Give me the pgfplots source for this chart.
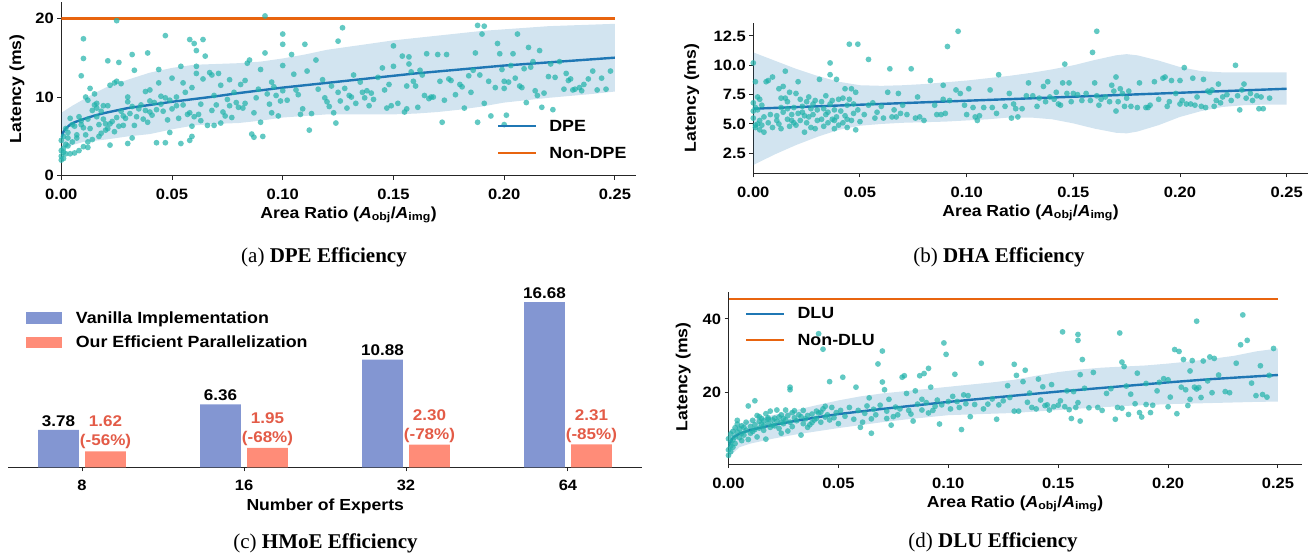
\documentclass[border=0pt]{standalone}
\usepackage{fontspec}
\setmainfont{Liberation Sans}[FakeStretch=1.1]
\newfontfamily\capfont{Liberation Serif}
\usepackage{pgfplots}
\pgfplotsset{compat=1.18}

\definecolor{tabblue}{HTML}{1F77B4}
\definecolor{nonorange}{HTML}{E8640F}
\definecolor{dots}{HTML}{20B2AA}
\definecolor{vanb}{HTML}{8396D2}
\definecolor{ourr}{HTML}{FF8C78}
\definecolor{redtxt}{HTML}{E35B47}

\newcommand{\tkf}{\fontsize{15}{18}\selectfont\bfseries}
\newcommand{\lbf}{\fontsize{16}{19}\selectfont\bfseries}
\newcommand{\lgf}{\fontsize{16.2}{19}\selectfont\bfseries}
\newcommand{\bvf}{\fontsize{15.5}{19}\selectfont\bfseries}
\newcommand{\capf}{\capfont\fontsize{21}{24}\selectfont}

\pgfplotsset{
  latax/.style={
    scale only axis, anchor=south west,
    axis x line*=bottom, axis y line*=left,
    axis line style={line width=1.1pt, black!85},
    tick style={line width=1pt, black!85},
    tick align=outside, major tick length=4pt,
    /pgf/number format/assume math mode=true,
    tick label style={font=\tkf},
    xticklabel shift=6pt,
    label style={font=\lbf},
    xtick={0,0.05,0.1,0.15,0.2,0.25},
    xticklabel style={/pgf/number format/fixed, /pgf/number format/fixed zerofill, /pgf/number format/precision=2},
    xlabel={Area Ratio (\textit{A}\textsubscript{obj}/\textit{A}\textsubscript{img})},
    ylabel={Latency (ms)},
    legend cell align=left,
    legend image code/.code={\draw[##1] (0pt,0pt) -- (38pt,0pt);},
  },
  scat/.style={only marks, mark=*, mark size=2.9pt, mark options={fill=dots, fill opacity=0.7, draw opacity=0, line width=0pt}, forget plot},
  band/.style={fill=tabblue, fill opacity=0.2, draw=none, forget plot},
  fitline/.style={tabblue, line width=2.4pt},
  refline/.style={nonorange, line width=2.4pt},
}

\begin{document}
\begin{tikzpicture}
\path[use as bounding box] (0,0) rectangle (1315pt,558pt);

% (a) DPE
\begin{axis}[latax,
  at={(61.3pt,382.2pt)}, width=574.4pt, height=173.8pt,
  xmin=0, xmax=0.2594, ymin=0, ymax=22.07, ytick={0,10,20},
  xlabel style={at={(axis description cs:0.5,-0.2255)}, anchor=center},
  ylabel style={at={(axis description cs:-0.0771,0.5)}, anchor=center},
  legend style={at={(axis description cs:0.758,0.327)}, anchor=north west, draw=none, fill=none, inner sep=0pt, font=\lgf, row sep=13pt, nodes={inner xsep=12pt, inner ysep=0pt, text height=12pt, text depth=2pt}},
]
\addplot[scat] coordinates {
(0.000,2.0)(0.000,2.5)(0.001,3.0)(0.001,3.5)(0.002,4.0)(0.000,4.5)(0.002,2.8)(0.001,5.0)(0.003,5.5)(0.002,6.0)
(0.004,7.3)(0.004,2.8)(0.005,6.5)(0.003,3.8)(0.005,4.3)(0.000,3.2)(0.001,2.2)(0.003,4.8)
(0.006,6.3)(0.007,5.2)(0.008,7.5)(0.009,6.5)(0.010,6.1)(0.011,5.2)(0.012,7.2)(0.013,6.0)(0.014,8.3)(0.015,9.0)
(0.016,8.6)(0.017,6.5)(0.018,5.4)(0.019,8.9)(0.020,6.6)(0.008,3.2)(0.010,3.7)(0.012,4.3)(0.011,10.0)(0.012,9.6)
(0.013,11.1)(0.015,10.4)(0.016,9.2)(0.017,5.0)(0.006,2.9)(0.007,4.8)(0.014,4.6)(0.016,7.5)(0.018,8.2)(0.019,7.2)
(0.020,5.8)(0.009,7.0)(0.010,14.9)(0.010,17.4)(0.009,12.7)(0.012,3.6)
(0.021,6.0)(0.022,6.6)(0.023,6.9)(0.024,5.6)(0.025,7.4)(0.026,6.3)(0.027,8.2)(0.028,6.4)(0.029,7.3)(0.030,9.4)
(0.021,8.9)(0.022,11.5)(0.024,11.8)(0.025,12.0)(0.027,11.7)(0.021,14.6)(0.026,14.4)(0.025,19.7)(0.022,3.9)(0.028,7.6)
(0.030,10.0)(0.031,7.9)(0.032,8.8)(0.033,6.4)(0.034,7.5)(0.030,4.1)(0.032,4.8)(0.033,13.4)(0.032,15.4)(0.035,8.5)
(0.036,9.0)(0.037,7.2)(0.038,10.7)(0.039,6.8)(0.040,9.5)(0.038,8.3)(0.039,15.6)(0.040,10.9)(0.040,8.1)
(0.041,7.7)(0.042,9.3)(0.043,8.4)(0.044,13.5)(0.045,10.1)(0.046,8.2)(0.047,9.9)(0.048,7.1)(0.049,9.6)(0.050,8.5)
(0.052,10.0)(0.053,7.3)(0.054,13.9)(0.055,9.0)(0.056,10.6)(0.057,7.8)(0.058,8.0)(0.059,6.3)(0.060,7.5)(0.047,17.8)
(0.043,4.2)(0.047,4.2)(0.049,5.5)(0.054,4.1)(0.058,4.5)(0.059,5.0)(0.044,11.8)(0.050,12.4)(0.045,9.1)(0.052,8.9)
(0.058,17.3)(0.060,16.8)(0.059,11.2)(0.055,11.8)
(0.061,13.9)(0.061,13.0)(0.062,7.8)(0.063,9.1)(0.064,12.3)(0.065,15.2)(0.066,6.4)(0.067,13.1)(0.068,8.3)(0.069,10.2)
(0.070,9.0)(0.071,13.0)(0.072,11.5)(0.073,8.1)(0.074,7.6)(0.075,9.7)(0.076,12.2)(0.077,7.4)(0.078,10.6)(0.079,9.3)
(0.080,8.7)(0.064,17.3)(0.061,15.9)(0.069,6.4)(0.072,6.7)(0.076,8.9)(0.068,12.8)(0.063,7.0)
(0.081,11.6)(0.082,8.6)(0.083,9.2)(0.084,14.3)(0.085,14.7)(0.086,5.3)(0.087,4.9)(0.088,9.9)(0.089,11.0)(0.090,13.5)
(0.091,5.0)(0.092,15.6)(0.092,20.3)(0.093,10.4)(0.094,9.1)(0.095,8.0)(0.096,11.3)(0.097,10.2)(0.098,7.6)(0.099,9.5)
(0.100,18.0)(0.100,16.7)(0.100,14.0)(0.100,10.8)(0.087,8.0)(0.090,6.8)(0.083,12.1)(0.095,11.9)
(0.102,9.6)(0.104,15.4)(0.105,12.9)(0.107,10.3)(0.108,7.8)(0.110,16.7)(0.111,13.3)(0.112,5.8)(0.113,7.9)(0.115,14.7)
(0.116,11.0)(0.118,12.2)(0.120,9.4)(0.121,8.8)(0.122,11.4)(0.124,6.7)(0.125,17.1)(0.125,10.6)(0.123,8.0)(0.119,9.9)
(0.106,10.9)(0.109,8.5)
(0.126,9.5)(0.127,18.8)(0.128,11.1)(0.129,8.6)(0.130,10.2)(0.132,12.8)(0.133,9.2)(0.135,11.9)(0.136,10.6)(0.137,9.9)
(0.139,8.9)(0.140,10.5)(0.141,9.7)(0.143,12.5)(0.145,13.7)(0.146,10.9)(0.147,8.6)(0.148,11.6)(0.149,8.9)(0.150,13.9)
(0.150,16.5)(0.131,10.0)(0.138,10.8)
(0.152,9.2)(0.154,15.2)(0.155,8.1)(0.156,11.4)(0.157,15.1)(0.157,14.2)(0.158,13.2)(0.159,12.0)(0.160,11.4)(0.161,8.7)
(0.162,13.4)(0.163,12.8)(0.165,15.5)(0.166,9.8)(0.167,10.0)(0.168,10.0)(0.170,15.4)(0.171,12.0)(0.172,6.8)(0.174,15.4)
(0.175,12.3)(0.156,8.5)(0.164,10.2)(0.173,9.6)
(0.176,12.1)(0.178,10.3)(0.180,11.6)(0.181,11.3)(0.182,8.6)(0.184,12.7)(0.186,13.4)(0.187,15.6)(0.188,19.1)(0.188,6.8)
(0.189,12.8)(0.190,18.0)(0.191,19.0)(0.191,9.2)(0.193,12.0)(0.194,7.6)(0.196,11.2)(0.197,16.8)(0.198,15.5)(0.199,13.5)
(0.200,6.5)(0.200,11.1)(0.200,12.0)(0.185,10.6)
(0.201,7.7)(0.202,11.9)(0.204,15.5)(0.205,12.4)(0.206,18.0)(0.207,11.4)(0.208,11.2)(0.209,13.6)(0.210,9.3)(0.211,16.3)
(0.212,13.8)(0.213,14.5)(0.215,10.2)(0.216,15.9)(0.217,8.7)(0.218,10.5)(0.220,12.6)(0.221,14.2)(0.222,8.4)(0.223,12.5)
(0.225,14.5)(0.214,10.8)(0.203,14.0)
(0.227,11.0)(0.228,13.0)(0.230,12.3)(0.231,10.9)(0.232,11.0)(0.234,11.2)(0.236,11.6)(0.238,12.3)(0.240,13.3)(0.242,10.9)
(0.244,12.4)(0.246,11.0)(0.248,13.3)(0.229,12.1)(0.235,10.8)
};
\addplot[band] coordinates {
(0,8.0)(0.005,8.9)(0.01,9.7)(0.015,10.5)(0.02,11.2)(0.03,12.2)(0.04,13.1)(0.05,13.7)(0.06,14.1)(0.07,14.2)
(0.08,14.3)(0.09,14.5)(0.1,14.9)(0.11,15.4)(0.12,16.0)(0.13,16.4)(0.14,16.8)(0.15,17.2)(0.16,17.5)(0.17,17.8)
(0.18,18.1)(0.19,18.4)(0.2,18.6)(0.22,19.0)(0.24,19.2)(0.25,19.3)
(0.25,10.7)(0.24,10.4)(0.22,9.9)(0.21,9.6)(0.2,9.3)(0.19,8.8)(0.18,8.4)(0.17,8.1)(0.16,7.9)(0.15,7.8)
(0.14,7.8)(0.13,7.8)(0.12,7.8)(0.11,7.6)(0.1,7.4)(0.09,7.0)(0.08,6.7)(0.07,6.6)(0.06,6.4)(0.05,5.9)
(0.04,5.3)(0.03,5.0)(0.02,4.6)(0.01,4.3)(0.005,3.9)(0,3.3)
};
\addplot[fitline] coordinates {
(0,4.8)(0.001,5.6)(0.002,6.0)(0.004,6.5)(0.006,6.8)(0.008,7.0)(0.01,7.2)(0.015,7.65)(0.02,8.0)(0.03,8.6)
(0.04,9.0)(0.05,9.4)(0.06,9.75)(0.07,10.1)(0.08,10.5)(0.09,10.85)(0.1,11.2)(0.12,11.8)(0.14,12.4)(0.16,13.0)
(0.18,13.5)(0.2,14.0)(0.22,14.4)(0.24,14.8)(0.25,15.0)
};
\addlegendentry{DPE}
\addplot[refline] coordinates {(0,20) (0.25,20)};
\addlegendentry{Non-DPE}
\end{axis}

% (b) DHA
\begin{axis}[latax,
  at={(753.3pt,384.7pt)}, width=554.7pt, height=150.6pt,
  xmin=0, xmax=0.26, ymin=0.795, ymax=13.63, ytick={2.5,5,7.5,10,12.5},
  yticklabel style={/pgf/number format/fixed, /pgf/number format/fixed zerofill, /pgf/number format/precision=1},
  xlabel style={at={(axis description cs:0.5,-0.2636)}, anchor=center},
  ylabel style={at={(axis description cs:-0.111,0.5)}, anchor=center},
]
\addplot[scat] coordinates {
(0.000,10.2)(0.001,8.6)(0.000,6.8)(0.001,6.4)(0.002,5.0)(0.001,4.7)(0.000,5.5)(0.002,7.3)(0.003,4.5)(0.004,4.9)
(0.003,7.1)(0.001,4.9)(0.002,6.2)(0.005,5.6)(0.006,8.6)(0.007,8.7)(0.005,4.3)(0.008,5.8)(0.009,4.7)(0.009,9.0)
(0.004,6.6)(0.007,5.1)(0.000,6.1)(0.003,5.3)
(0.011,5.7)(0.012,8.0)(0.013,7.2)(0.012,5.0)(0.013,4.6)(0.014,6.0)(0.015,7.2)(0.015,9.5)(0.016,5.4)(0.016,6.9)
(0.017,7.7)(0.018,5.8)(0.019,6.4)(0.020,7.6)(0.017,4.8)(0.018,5.3)(0.014,8.2)(0.011,5.3)(0.019,5.1)(0.020,4.9)
(0.013,6.4)(0.016,6.3)
(0.021,5.9)(0.021,8.6)(0.022,5.3)(0.022,7.1)(0.023,6.0)(0.024,4.3)(0.024,5.7)(0.025,6.9)(0.025,5.1)(0.026,7.3)
(0.027,6.3)(0.027,4.7)(0.028,5.8)(0.029,7.0)(0.029,4.6)(0.030,6.2)(0.030,5.3)(0.023,6.5)(0.026,5.6)(0.028,6.7)
(0.031,8.8)(0.032,6.9)(0.032,5.4)(0.033,6.3)(0.033,4.8)(0.034,7.4)(0.034,5.8)(0.035,5.1)(0.036,10.2)(0.036,9.2)
(0.036,6.7)(0.037,5.4)(0.037,7.0)(0.038,4.6)(0.038,6.2)(0.039,8.8)(0.039,5.6)(0.040,7.1)(0.040,4.9)(0.035,6.0)
(0.038,5.3)
(0.041,6.1)(0.042,7.2)(0.042,5.1)(0.043,8.0)(0.043,5.7)(0.044,6.6)(0.044,4.7)(0.045,11.8)(0.045,7.1)(0.046,5.3)
(0.046,8.0)(0.047,6.7)(0.048,4.5)(0.048,7.7)(0.049,11.8)(0.049,6.2)(0.050,5.2)(0.044,5.4)(0.047,5.9)
(0.052,5.8)(0.054,10.5)(0.054,6.6)(0.056,6.8)(0.057,5.5)(0.060,6.5)(0.061,5.5)(0.063,7.7)(0.064,9.7)(0.065,5.6)
(0.066,6.2)(0.067,5.6)(0.068,7.6)(0.069,5.9)(0.070,6.6)(0.072,5.8)(0.074,9.7)(0.076,5.5)(0.077,7.3)(0.078,5.6)
(0.080,5.3)(0.083,8.7)(0.085,6.6)(0.088,5.8)(0.089,8.3)(0.089,7.1)(0.090,5.9)(0.091,11.6)(0.092,7.0)(0.095,7.9)
(0.096,12.9)(0.097,7.6)(0.099,6.6)(0.100,5.8)(0.058,6.0)(0.086,5.8)
(0.101,8.0)(0.103,6.4)(0.104,5.6)(0.105,5.3)(0.106,5.7)(0.108,6.4)(0.111,7.9)(0.112,6.4)(0.114,5.9)(0.115,9.2)
(0.118,6.5)(0.120,7.6)(0.121,5.5)(0.122,6.7)(0.123,6.3)(0.124,5.6)(0.126,6.3)(0.128,7.4)(0.129,8.5)(0.131,7.4)
(0.133,6.5)(0.134,7.2)(0.136,8.2)(0.138,8.6)(0.139,7.3)(0.141,7.1)(0.142,7.7)(0.143,6.7)(0.145,8.5)(0.146,10.1)
(0.147,7.6)(0.148,8.5)(0.149,6.9)(0.150,7.6)(0.137,6.9)(0.144,6.6)
(0.152,7.5)(0.154,7.0)(0.156,7.6)(0.158,7.0)(0.159,11.1)(0.160,8.5)(0.161,12.9)(0.161,7.4)(0.162,6.6)(0.163,7.1)
(0.165,7.3)(0.167,6.9)(0.168,8.3)(0.169,7.8)(0.170,9.0)(0.170,6.1)(0.171,6.9)(0.172,8.0)(0.173,7.6)(0.175,7.2)
(0.176,7.8)(0.177,6.5)(0.180,6.4)(0.181,8.5)(0.184,6.4)(0.186,6.6)(0.188,8.6)(0.190,7.1)(0.192,8.9)(0.193,9.0)
(0.194,6.5)(0.195,6.9)(0.196,8.7)(0.198,7.6)(0.200,6.7)(0.200,8.7)(0.174,6.5)(0.185,6.4)
(0.201,7.0)(0.202,9.8)(0.203,6.7)(0.205,6.7)(0.206,8.9)(0.207,6.6)(0.208,7.3)(0.210,6.5)(0.211,8.8)(0.212,6.4)
(0.213,7.8)(0.214,7.7)(0.216,6.5)(0.217,7.0)(0.218,8.4)(0.219,6.8)(0.220,7.3)(0.222,7.5)(0.224,7.0)(0.226,10.0)
(0.227,7.4)(0.228,6.2)(0.229,7.9)(0.230,8.4)(0.231,7.2)(0.233,7.6)(0.234,7.0)(0.236,7.4)(0.237,6.3)(0.238,7.3)
(0.239,6.3)(0.242,7.2)(0.215,7.9)
};
\addplot[band] coordinates {
(0,11.1)(0.01,10.4)(0.02,9.7)(0.03,9.1)(0.04,8.6)(0.05,8.3)(0.06,8.25)(0.07,8.3)(0.08,8.4)(0.09,8.55)
(0.1,8.7)(0.11,8.9)(0.12,9.1)(0.13,9.35)(0.14,9.65)(0.15,10.0)(0.16,10.45)(0.17,10.85)(0.175,10.95)(0.18,10.85)
(0.19,10.4)(0.2,9.85)(0.21,9.5)(0.22,9.4)(0.23,9.4)(0.24,9.4)(0.25,9.4)
(0.25,6.65)(0.24,6.65)(0.23,6.6)(0.22,6.45)(0.21,6.1)(0.2,5.6)(0.19,4.9)(0.18,4.35)(0.175,4.2)(0.17,4.25)
(0.16,4.6)(0.15,5.05)(0.14,5.4)(0.13,5.55)(0.12,5.55)(0.11,5.4)(0.1,5.3)(0.09,5.2)(0.08,5.15)(0.07,5.1)
(0.06,5.0)(0.05,4.85)(0.04,4.5)(0.03,3.9)(0.02,3.2)(0.01,2.4)(0,1.5)
};
\addplot[fitline] coordinates {(0,6.3) (0.25,8.0)};
\end{axis}

% (c) HMoE
\begin{axis}[
  scale only axis, anchor=south west,
  at={(8.5pt,90.7pt)}, width=633.5pt, height=177.3pt,
  xmin=-0.454, xmax=3.457, ymin=0, ymax=17.9,
  axis x line*=bottom, axis y line=none,
  axis line style={line width=1.1pt, black!85},
  tick style={line width=1pt, black!85},
  tick align=outside, major tick length=4pt,
  xtick={0,1,2,3}, xticklabels={8,16,32,64},
  tick label style={font=\tkf}, xticklabel shift=5pt, label style={font=\lbf},
  xlabel={Number of Experts},
  xlabel style={at={(axis description cs:0.5,-0.222)}, anchor=center},
  ybar, bar width=0.251, clip=false,
  legend cell align=left,
  legend image code/.code={\fill[#1] (0pt,-5.8pt) rectangle (36.2pt,5.8pt);},
  legend style={at={(axis description cs:0.0268,0.8816)}, anchor=north west, draw=none, fill=none, inner sep=0pt, font=\lgf, row sep=10.5pt, nodes={inner xsep=14pt, inner ysep=0pt, text height=12pt, text depth=2pt}},
]
\addplot[fill=vanb, draw=none, bar shift=-0.145,
  nodes near coords, point meta=explicit symbolic,
  every node near coord/.append style={font=\bvf, black}]
  coordinates {(0,3.78)[3.78] (1,6.36)[6.36] (2,10.88)[10.88] (3,16.68)[16.68]};
\addlegendentry{Vanilla Implementation}
\addplot[fill=ourr, draw=none, bar shift=0.145,
  nodes near coords, point meta=explicit symbolic,
  every node near coord/.append style={font=\bvf, text=redtxt, align=center, inner sep=2pt}]
  coordinates {(0,1.62)[{1.62\\(-56\%)}] (1,1.95)[{1.95\\(-68\%)}] (2,2.30)[{2.30\\(-78\%)}] (3,2.31)[{2.31\\(-85\%)}]};
\addlegendentry{Our Efficient Parallelization}
\end{axis}

% (d) DLU
\begin{axis}[latax,
  at={(728.5pt,93.8pt)}, width=573.2pt, height=172.5pt,
  xmin=0, xmax=0.2608, ymin=0.6, ymax=47.4, ytick={20,40},
  xlabel style={at={(axis description cs:0.5,-0.2307)}, anchor=center},
  ylabel style={at={(axis description cs:-0.0789,0.507)}, anchor=center},
  legend style={at={(axis description cs:0.0288,0.914)}, anchor=north west, draw=none, fill=none, inner sep=0pt, font=\lgf, row sep=12.5pt, nodes={inner xsep=12pt, inner ysep=0pt, text height=12pt, text depth=2pt}},
]
\addplot[scat] coordinates {
(0.000,3.0)(0.000,4.5)(0.001,5.5)(0.001,6.5)(0.000,7.5)(0.001,8.8)(0.002,9.5)(0.002,7.2)(0.003,10.5)(0.003,8.0)
(0.004,11.5)(0.004,9.3)(0.005,10.2)(0.005,7.8)(0.006,9.0)(0.006,11.0)(0.007,8.5)(0.007,10.6)(0.008,9.8)(0.008,12.0)
(0.009,16.4)(0.009,7.3)(0.010,10.8)(0.010,9.0)(0.002,5.2)(0.001,4.0)(0.003,6.2)(0.004,12.5)(0.006,7.0)
(0.011,12.5)(0.011,9.5)(0.012,17.8)(0.012,11.3)(0.013,13.8)(0.013,8.0)(0.014,12.2)(0.014,10.4)(0.015,13.0)(0.015,11.5)
(0.016,9.8)(0.016,12.4)(0.017,14.3)(0.017,7.4)(0.018,11.8)(0.018,13.2)(0.019,15.0)(0.019,10.6)(0.020,12.6)(0.020,11.2)
(0.012,10.0)(0.014,13.5)(0.016,11.0)(0.018,12.8)
(0.021,13.1)(0.021,11.0)(0.022,15.3)(0.022,12.2)(0.023,10.3)(0.023,13.4)(0.024,12.0)(0.024,14.0)(0.025,11.6)(0.025,13.0)
(0.026,15.3)(0.026,12.6)(0.027,9.6)(0.027,13.8)(0.028,20.8)(0.028,21.5)(0.028,12.0)(0.029,14.6)(0.029,10.8)(0.030,13.2)
(0.030,15.1)(0.024,9.0)
(0.031,12.4)(0.032,14.0)(0.033,13.5)(0.033,8.5)(0.034,11.6)(0.035,12.9)(0.036,13.8)(0.037,11.3)(0.038,14.2)(0.039,12.6)
(0.040,15.0)(0.040,13.0)(0.041,36.0)(0.043,31.8)(0.041,14.5)(0.042,12.0)(0.043,15.6)(0.044,13.4)(0.045,14.0)(0.046,23.0)
(0.046,12.6)(0.047,16.0)(0.048,13.2)(0.049,14.6)(0.050,11.6)(0.034,15.2)(0.038,11.9)(0.044,16.3)(0.042,14.7)(0.036,10.6)
(0.051,15.2)(0.052,24.2)(0.053,13.6)(0.055,16.0)(0.057,12.8)(0.058,21.5)(0.059,15.2)(0.060,10.6)(0.061,12.0)(0.062,14.4)
(0.063,16.4)(0.064,18.6)(0.065,9.0)(0.066,15.5)(0.067,14.0)(0.068,27.8)(0.069,16.6)(0.070,31.3)(0.070,22.9)(0.071,20.8)
(0.072,15.0)(0.073,18.2)(0.074,11.2)(0.075,13.5)(0.076,16.1)(0.077,14.0)(0.078,15.6)(0.079,24.2)(0.080,24.6)(0.065,12.9)
(0.072,13.0)
(0.081,19.8)(0.082,15.2)(0.083,14.2)(0.084,12.3)(0.085,20.5)(0.086,16.9)(0.087,24.6)(0.088,15.3)(0.089,25.2)(0.090,17.3)
(0.091,26.6)(0.092,21.5)(0.093,15.2)(0.094,16.3)(0.095,18.0)(0.096,11.5)(0.097,16.7)(0.098,33.5)(0.099,30.4)(0.100,17.6)
(0.091,14.5)(0.088,18.2)
(0.101,15.6)(0.102,19.0)(0.103,25.0)(0.104,17.6)(0.105,16.0)(0.106,10.0)(0.107,19.4)(0.108,17.0)(0.109,19.2)(0.110,13.5)
(0.112,16.8)(0.115,28.0)(0.116,15.6)(0.118,16.9)(0.120,18.3)(0.122,12.8)(0.123,16.7)(0.125,17.8)(0.127,21.9)(0.128,18.7)
(0.130,27.7)(0.130,15.0)
(0.131,24.7)(0.132,15.0)(0.134,23.0)(0.135,26.1)(0.136,17.4)(0.137,19.9)(0.138,16.0)(0.140,15.6)(0.141,23.7)(0.142,18.0)
(0.143,21.6)(0.144,16.5)(0.145,16.7)(0.146,15.3)(0.147,22.2)(0.148,16.2)(0.150,16.6)(0.151,17.8)(0.152,36.5)(0.153,16.2)
(0.154,20.5)(0.155,15.4)(0.156,13.0)(0.157,20.3)(0.158,16.0)(0.159,35.8)(0.159,34.2)(0.160,24.9)(0.160,12.3)(0.161,29.0)
(0.159,17.3)
(0.162,21.2)(0.164,15.9)(0.166,25.5)(0.168,16.0)(0.170,15.2)(0.172,19.8)(0.174,21.1)(0.176,12.8)(0.177,16.0)(0.178,36.2)
(0.179,28.3)(0.180,27.1)(0.181,21.8)(0.182,14.1)(0.183,19.6)(0.185,17.0)(0.186,25.3)(0.187,14.6)(0.188,13.4)(0.190,22.5)
(0.192,14.6)(0.193,16.6)(0.195,20.5)(0.196,22.8)(0.198,23.8)(0.200,16.2)(0.200,23.5)(0.179,15.8)(0.190,16.8)
(0.201,18.8)(0.203,31.7)(0.204,14.3)(0.205,31.2)(0.206,21.5)(0.207,29.0)(0.208,20.8)(0.209,16.5)(0.210,25.9)(0.211,28.7)
(0.212,21.5)(0.213,39.4)(0.214,21.4)(0.215,18.7)(0.216,28.6)(0.218,23.2)(0.219,29.7)(0.220,20.0)(0.221,29.3)(0.223,24.8)
(0.226,20.3)(0.228,20.0)(0.231,28.0)(0.233,33.0)(0.234,41.1)(0.236,34.2)(0.238,22.6)(0.240,19.2)(0.242,27.3)(0.243,19.5)
(0.245,18.8)(0.246,24.7)(0.248,32.0)(0.210,18.2)(0.213,21.0)
};
\addplot[band] coordinates {
(0,9.5)(0.005,11.5)(0.01,12.6)(0.02,13.9)(0.03,15.2)(0.04,16.6)(0.05,17.9)(0.06,19.0)(0.07,19.8)(0.08,20.4)
(0.09,21.0)(0.1,21.6)(0.11,22.2)(0.12,22.8)(0.13,23.5)(0.14,24.6)(0.15,25.6)(0.16,26.3)(0.17,26.8)(0.18,27.1)
(0.19,27.4)(0.2,27.9)(0.21,28.5)(0.22,29.2)(0.23,30.0)(0.24,31.2)(0.25,32.0)
(0.25,17.6)(0.24,17.5)(0.22,17.2)(0.2,16.9)(0.18,16.4)(0.16,15.7)(0.15,15.3)(0.14,14.9)(0.13,14.5)(0.12,14.3)
(0.1,13.9)(0.09,13.3)(0.08,12.7)(0.07,12.0)(0.06,11.2)(0.05,10.4)(0.04,9.5)(0.03,8.6)(0.02,7.5)(0.01,6.2)
(0.005,5.2)(0,2.5)
};
\addplot[fitline] coordinates {
(0,5.5)(0.002,7.8)(0.005,8.9)(0.01,9.9)(0.02,11.2)(0.03,12.3)(0.04,13.3)(0.05,14.2)(0.07,15.6)(0.1,17.5)
(0.13,19.2)(0.15,20.3)(0.18,21.8)(0.2,22.8)(0.22,23.7)(0.25,24.8)
};
\addlegendentry{DLU}
\addplot[refline] coordinates {(0,45.4) (0.25,45.4)};
\addlegendentry{Non-DLU}
\end{axis}

% captions
\node[font=\capf] at (324pt,301pt) {(a) \textbf{DPE Efficiency}};
\node[font=\capf] at (999pt,301pt) {(b) \textbf{DHA Efficiency}};
\node[font=\capf] at (325.5pt,15pt) {(c) \textbf{HMoE Efficiency}};
\node[font=\capf] at (993pt,16pt) {(d) \textbf{DLU Efficiency}};
\end{tikzpicture}
\end{document}
